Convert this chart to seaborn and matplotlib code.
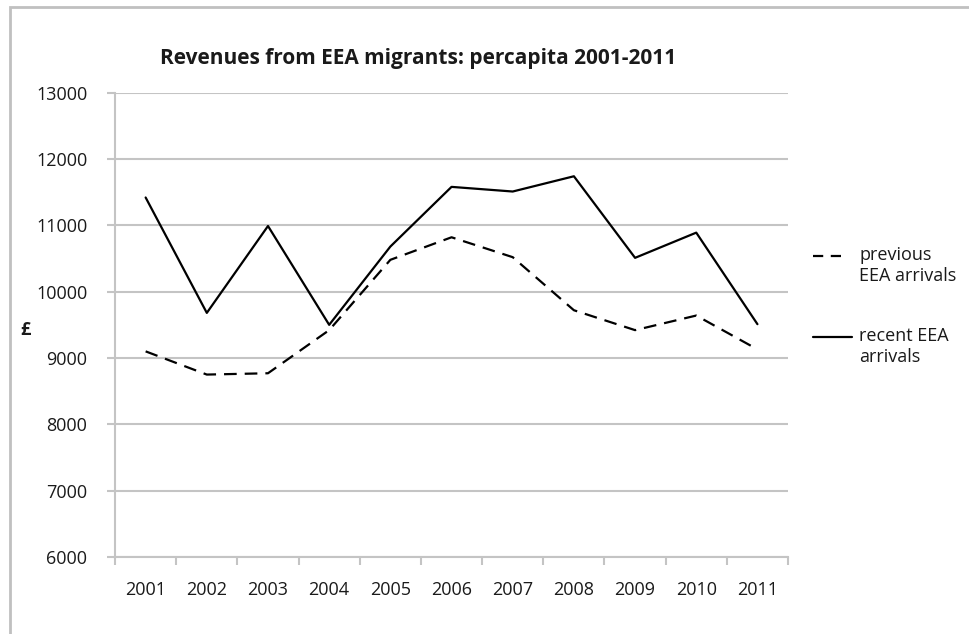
import matplotlib
matplotlib.use("Agg")
import matplotlib.pyplot as plt
from matplotlib.lines import Line2D
from matplotlib.patches import Rectangle
from matplotlib.ticker import FixedLocator
import seaborn as sns
import pandas as pd

# Per-capita revenues (£) from EEA migrants
years = ["2001", "2002", "2003", "2004", "2005", "2006",
         "2007", "2008", "2009", "2010", "2011"]
previous_arrivals = [9100, 8750, 8770, 9420, 10480, 10820,
                     10520, 9720, 9420, 9640, 9130]
recent_arrivals = [11420, 9680, 10990, 9500, 10680, 11580,
                   11510, 11740, 10510, 10890, 9510]
series_labels = ["previous\nEEA arrivals", "recent EEA\narrivals"]
y_ticks = [6000, 7000, 8000, 9000, 10000, 11000, 12000, 13000]
title = "Revenues from EEA migrants: percapita 2001-2011"

sns.set_theme(style="white")
plt.rcParams["font.family"] = ["Open Sans", "DejaVu Sans"]

grid_grey = "#c4c4c4"
text_col = "#1a1a1a"
dash = (0, (5.7, 3.6))

fig = plt.figure(figsize=(9.7, 6.34), dpi=100)
ax = fig.add_axes([0.1186, 0.1215, 0.6938, 0.7323])

df = pd.DataFrame({"year": years, "previous": previous_arrivals,
                   "recent": recent_arrivals})
sns.lineplot(data=df, x="year", y="previous", ax=ax, color="black",
             linewidth=1.6, linestyle=dash, sort=False)
sns.lineplot(data=df, x="year", y="recent", ax=ax, color="black",
             linewidth=1.6, sort=False)

ax.set_xlim(-0.5, len(years) - 0.5)
ax.set_ylim(y_ticks[0], y_ticks[-1])
ax.set_yticks(y_ticks)
ax.set_yticklabels([str(v) for v in y_ticks])
ax.set_xlabel("")
ax.set_ylabel("")

# horizontal gridlines only
ax.grid(False)
ax.yaxis.grid(True, color=grid_grey, linewidth=1.5)
ax.set_axisbelow(True)

for side in ("top", "right"):
    ax.spines[side].set_visible(False)
for side in ("left", "bottom"):
    ax.spines[side].set_color(grid_grey)
    ax.spines[side].set_linewidth(1.5)

# category boundary ticks on the x axis
ax.xaxis.set_minor_locator(FixedLocator([i - 0.5 for i in range(len(years) + 1)]))
ax.tick_params(axis="x", which="major", length=0, pad=17,
               labelsize=13, labelcolor=text_col)
ax.tick_params(axis="x", which="minor", length=6, width=1.5,
               color=grid_grey, bottom=True)
ax.tick_params(axis="y", which="major", length=6, width=1.5,
               color=grid_grey, pad=14, labelsize=13, labelcolor=text_col,
               left=True)

fig.text(0.431, 0.908, title, ha="center", va="center", fontsize=15,
         fontweight="bold", color=text_col)
fig.text(0.026, 0.4795, "£", ha="center", va="center", fontsize=13,
         fontweight="bold", color=text_col)

# legend to the right of the plot
handles = [Line2D([0.838, 0.874], [0.596, 0.596], color="black",
                  linewidth=1.6, linestyle=(0, (4.6, 3.4)),
                  transform=fig.transFigure),
           Line2D([0.838, 0.878], [0.469, 0.469], color="black",
                  linewidth=1.6, transform=fig.transFigure)]
for h in handles:
    fig.add_artist(h)
for yy, lab in zip([0.596, 0.469], series_labels):
    fig.text(0.886, yy + 0.016, lab, ha="left", va="top", fontsize=13,
             color=text_col, linespacing=1.25)

# outer chart border
fig.add_artist(Rectangle((0.0098, -0.05), 1.1, 1.039, transform=fig.transFigure,
                         fill=False, edgecolor="#c0c0c0", linewidth=2))

fig.savefig("out.png", dpi=100)
